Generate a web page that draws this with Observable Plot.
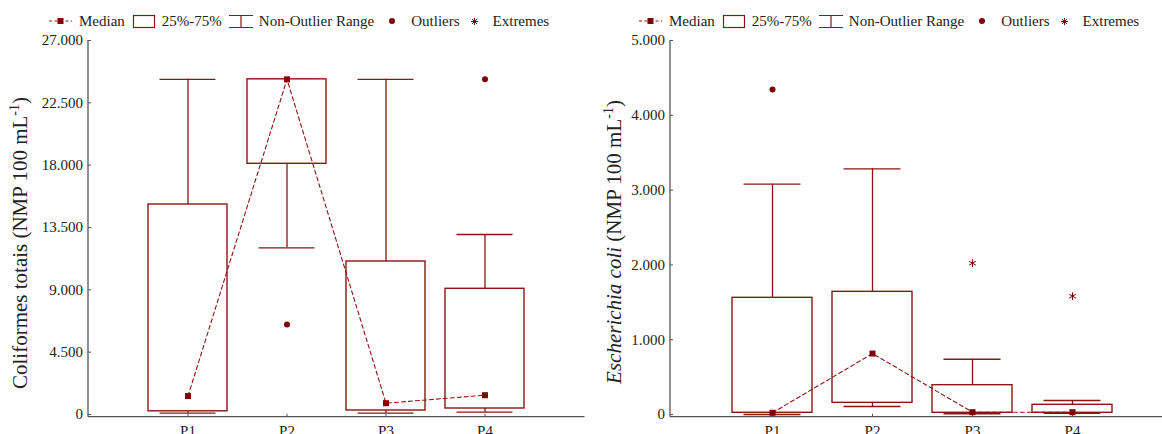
<!DOCTYPE html>
<html><head><meta charset="utf-8">
<script src="https://cdn.jsdelivr.net/npm/d3@7"></script>
<script src="https://cdn.jsdelivr.net/npm/@observablehq/plot@0.6"></script>
<style>
html,body{margin:0;padding:0;background:#fff;overflow:hidden;width:1162px;height:434px;}
#wrap{position:relative;width:1162px;height:434px;overflow:hidden;font-family:"Liberation Serif",serif;}
.panel{position:absolute;top:0;}
.legend{position:absolute;top:12px;display:flex;align-items:center;font:15px "Liberation Serif",serif;color:#222;white-space:nowrap;line-height:18px;}
.legend svg{display:block;overflow:visible;}
</style></head><body><div id="wrap"></div>
<script>
// ---- data ----
const sites = ["P1", "P2", "P3", "P4"];

// Coliformes totais (NMP 100 mL-1)
const coliMin    = [96, 12034, 94, 166];
const coliQ1     = [230, 18098, 289, 433];
const coliMedian = [1330, 24196, 816, 1393];
const coliQ3     = [15160, 24196, 11045, 9074];
const coliMax    = [24196, 24196, 24196, 12994];
const coliOutlierSites  = ["P2", "P4"];
const coliOutlierValues = [6497, 24196];
const coliExtremeSites  = [];
const coliExtremeValues = [];
const coliTicks = [0, 4500, 9000, 13500, 18000, 22500, 27000];

// Escherichia coli (NMP 100 mL-1)
const ecoliMin    = [0, 107, 10, 15];
const ecoliQ1     = [23, 156, 23, 23];
const ecoliMedian = [23, 815, 31, 31];
const ecoliQ3     = [1560, 1640, 392, 130];
const ecoliMax    = [3079, 3285, 739, 187];
const ecoliOutlierSites  = ["P1"];
const ecoliOutlierValues = [4345];
const ecoliExtremeSites  = ["P3", "P4"];
const ecoliExtremeValues = [2023, 1582];
const ecoliTicks = [0, 1000, 2000, 3000, 4000, 5000];

// ---- styles ----
const C = "#8b1414";   // box / whisker stroke
const M = "#800000";   // markers
const fmt = v => d3.format(",")(v).replace(/,/g, ".");

function table(min, q1, med, q3, max) {
  return sites.map((s, i) => ({site: s, min: min[i], q1: q1[i], med: med[i], q3: q3[i], max: max[i]}));
}
function points(s, v) { return s.map((d, i) => ({site: d, value: v[i]})); }

function frameLines(index, scales, values, dims) {
  const g = d3.create("svg:g").attr("stroke", "#555").attr("stroke-width", 1.3);
  const yb = dims.height - dims.marginBottom;
  g.append("line").attr("x1", dims.marginLeft).attr("x2", dims.marginLeft).attr("y1", dims.marginTop).attr("y2", yb);
  g.append("line").attr("x1", dims.marginLeft).attr("x2", dims.width - dims.marginRight).attr("y1", yb).attr("y2", yb);
  return g.node();
}

function panel({rows, outliers, extremes, ticks, domain, width, marginLeft, marginRight}) {
  return Plot.plot({
    width, height: 434, marginTop: 40, marginBottom: 17.3, marginLeft, marginRight,
    style: {fontFamily: '"Liberation Serif", serif', fontSize: "15px", color: "#222", overflow: "visible", background: "transparent"},
    x: {type: "band", domain: sites, paddingInner: 0.2, paddingOuter: 0.6, label: null},
    y: {domain, label: null},
    marks: [
      Plot.axisY({ticks, tickFormat: fmt, tickSize: -3, tickPadding: 8.5, stroke: "#555"}),
      Plot.axisX({tickSize: -3, tickPadding: 10.7, stroke: "#555"}),
      frameLines,
      Plot.ruleX(rows, {x: "site", y1: "q3", y2: "max", stroke: C, strokeWidth: 1.3}),
      Plot.ruleX(rows, {x: "site", y1: "min", y2: "q1", stroke: C, strokeWidth: 1.3}),
      Plot.tickY(rows, {x: "site", y: "max", stroke: C, strokeWidth: 1.3, insetLeft: 11.5, insetRight: 11.5}),
      Plot.tickY(rows, {x: "site", y: "min", stroke: C, strokeWidth: 1.3, insetLeft: 11.5, insetRight: 11.5}),
      Plot.barY(rows, {x: "site", y1: "q1", y2: "q3", fill: "white", stroke: C, strokeWidth: 1.4}),
      Plot.line(rows, {x: "site", y: "med", stroke: C, strokeWidth: 1.1, strokeDasharray: "4,3"}),
      Plot.dot(rows, {x: "site", y: "med", symbol: "square", r: 3.4, fill: M}),
      Plot.dot(outliers, {x: "site", y: "value", r: 3, fill: M}),
      Plot.dot(extremes, {x: "site", y: "value", symbol: "asterisk", r: 3.6, stroke: M, strokeWidth: 1})
    ]
  });
}

function yTitle(svg, x, y, italic, rest) {
  const t = d3.select(svg).append("text")
    .attr("transform", `translate(${x},${y}) rotate(-90)`)
    .attr("text-anchor", "middle").attr("fill", "#222")
    .style("font", '21px "Liberation Serif", serif');
  if (italic) t.append("tspan").attr("font-style", "italic").text(italic);
  t.append("tspan").text(rest);
  t.append("tspan").attr("font-size", "14px").attr("dy", "-8").text("-1");
  t.append("tspan").attr("dy", "8").text(")");
}

function legend(x) {
  const d = document.createElement("div");
  d.className = "legend";
  d.style.left = x + "px";
  d.innerHTML = `
  <svg width="23" height="10"><line x1="0" x2="23" y1="5" y2="5" stroke="${C}" stroke-width="1.1" stroke-dasharray="3,2.5"/><rect x="8.5" y="2" width="6" height="6" fill="${M}"/></svg>
  <span style="margin-left:7px">Median</span>
  <svg style="margin-left:8px" width="22" height="13"><rect x="0.5" y="0.5" width="21" height="12" fill="white" stroke="${C}" stroke-width="1.2"/></svg>
  <span style="margin-left:7px">25%-75%</span>
  <svg style="margin-left:7px" width="24" height="13"><path d="M0,0.5H24M12,0.5V12.5M0,12.5H24" stroke="${C}" stroke-width="1.2" fill="none"/></svg>
  <span style="margin-left:6px">Non-Outlier Range</span>
  <svg style="margin-left:15px" width="6" height="6"><circle cx="3" cy="3" r="3" fill="${M}"/></svg>
  <span style="margin-left:16px">Outliers</span>
  <svg style="margin-left:11px" width="7" height="7"><path d="M3.5,0V7M0,3.5H7M1,1L6,6M6,1L1,6" stroke="${M}" stroke-width="1"/></svg>
  <span style="margin-left:15px">Extremes</span>`;
  return d;
}

const wrap = document.getElementById("wrap");

const left = panel({
  rows: table(coliMin, coliQ1, coliMedian, coliQ3, coliMax),
  outliers: points(coliOutlierSites, coliOutlierValues),
  extremes: points(coliExtremeSites, coliExtremeValues),
  ticks: coliTicks, domain: [-195, 27000],
  width: 590, marginLeft: 88, marginRight: 5.5
});
left.classList.add("panel"); left.style.left = "0px";
yTitle(left, 27, 243, null, "Coliformes totais (NMP 100 mL");
wrap.appendChild(left);

const right = panel({
  rows: table(ecoliMin, ecoliQ1, ecoliMedian, ecoliQ3, ecoliMax),
  outliers: points(ecoliOutlierSites, ecoliOutlierValues),
  extremes: points(ecoliExtremeSites, ecoliExtremeValues),
  ticks: ecoliTicks, domain: [-36, 5000],
  width: 600, marginLeft: 86, marginRight: 10.5
});
right.classList.add("panel"); right.style.left = "584px";
yTitle(right, 37, 242, "Escherichia coli", " (NMP 100 mL");
wrap.appendChild(right);

wrap.appendChild(legend(49));
wrap.appendChild(legend(639));
</script></body></html>
